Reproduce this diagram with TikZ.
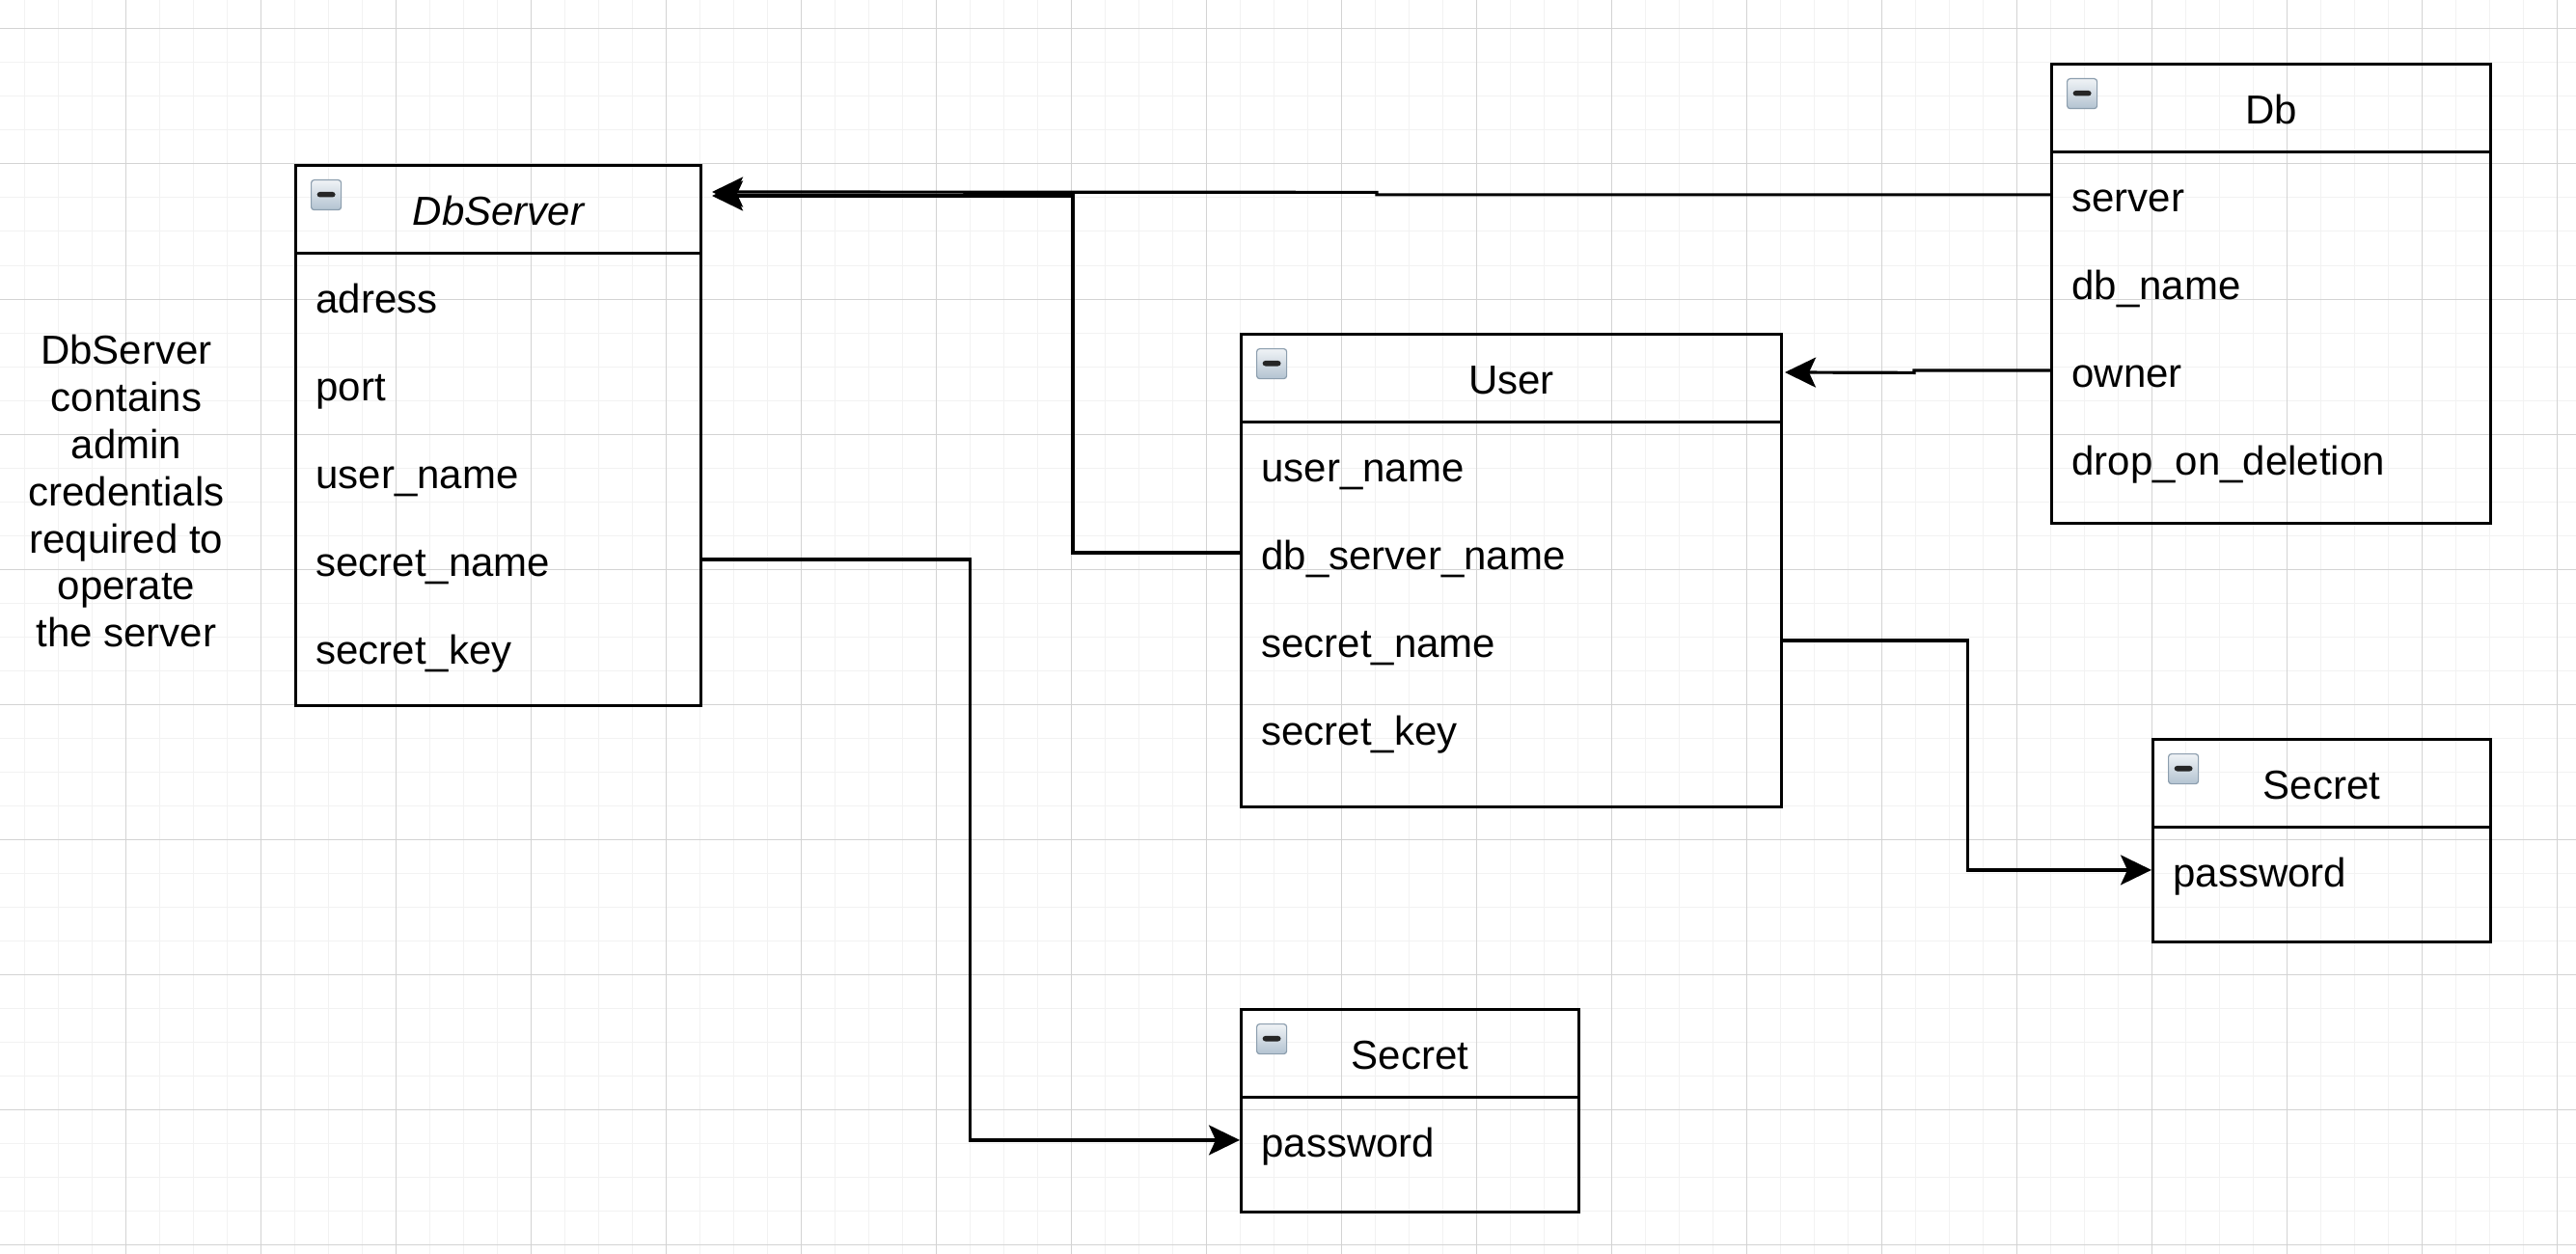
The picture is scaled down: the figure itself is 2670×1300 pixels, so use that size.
\documentclass[tikz,border=0pt]{standalone}
\usepackage{fontspec}
\setmainfont{Liberation Sans}
\usetikzlibrary{arrows.meta}
\definecolor{gridminor}{HTML}{F2F2F2}
\definecolor{gridmajor}{HTML}{D3D3D3}
\definecolor{iconborder}{HTML}{8C9EAE}
\definecolor{icontop}{HTML}{F0F3F6}
\definecolor{iconbot}{HTML}{B3C3D1}
\newcommand\fsz{\fontsize{21pt}{25pt}\selectfont}
\begin{document}
\begin{tikzpicture}[x=0.5pt,y=-0.5pt,
  minorline/.style={draw=gridminor, line width=0.5pt},
  majorline/.style={draw=gridmajor, line width=0.5pt},
  classbox/.style={draw, line width=1.6pt, inner sep=0pt, anchor=north west},
  hdr/.style={draw, line width=1.6pt, inner sep=0pt, anchor=north west, minimum height=45.5pt,
    align=center, text height=18.5pt, text depth=2pt, font=\fsz},
  fieldrow/.style={inner sep=0pt, inner xsep=11pt, anchor=north west, minimum height=45.5pt,
    text width=#1, align=left, text height=20pt, text depth=2pt, font=\fsz},
  icon/.style={draw=iconborder, line width=0.6pt, rounded corners=1.5pt, top color=icontop,
    bottom color=iconbot, minimum size=15.5pt, inner sep=0pt, anchor=north west,
    path picture={\fill[black!85] ([xshift=-4.75pt,yshift=-1.2pt]path picture bounding box.center)
      rectangle ++(9.5pt,2.8pt);}},
  conn/.style={line width=1.6pt, -{Stealth[length=16pt,width=15.5pt,inset=3.5pt]}},
  note/.style={font=\fontsize{21pt}{24.4pt}\selectfont, align=center, inner sep=0pt, anchor=north}
]
\useasboundingbox (0,0) rectangle (2670,1300);
\fill[white] (0,0) rectangle (2670,1300);
% grid
\foreach \i in {0,...,76} \draw[minorline] ({25+35*\i},0) -- ({25+35*\i},1300);
\foreach \j in {0,...,37} \draw[minorline] (0,{-5+35*\j}) -- (2670,{-5+35*\j});
\foreach \i in {0,...,18} \draw[majorline] ({130+140*\i},0) -- ({130+140*\i},1300);
\foreach \j in {0,...,9} \draw[majorline] (0,{30+140*\j}) -- (2670,{30+140*\j});

% DbServer
\node[classbox, minimum width=210pt, minimum height=280pt] (dbs) at (305,170) {};
\node[hdr, minimum width=210pt] (dbs-h) at (305,170) {\itshape DbServer};
\node[icon] (dbs-icon) at (322,186) {};
\node[fieldrow=188pt] (dbs-adress) at (305,261) {adress};
\node[fieldrow=188pt] (dbs-port) at (305,352) {port};
\node[fieldrow=188pt] (dbs-username) at (305,443) {user\_name};
\node[fieldrow=188pt] (dbs-secretname) at (305,534) {secret\_name};
\node[fieldrow=188pt] (dbs-secretkey) at (305,625) {secret\_key};

% Db
\node[classbox, minimum width=227.5pt, minimum height=238pt] (db) at (2125,65) {};
\node[hdr, minimum width=227.5pt] (db-h) at (2125,65) {Db};
\node[icon] (db-icon) at (2142,81) {};
\node[fieldrow=205.5pt] (db-server) at (2125,156) {server};
\node[fieldrow=205.5pt] (db-dbname) at (2125,247) {db\_name};
\node[fieldrow=205.5pt] (db-owner) at (2125,338) {owner};
\node[fieldrow=205.5pt] (db-drop) at (2125,429) {drop\_on\_deletion};

% User
\node[classbox, minimum width=280pt, minimum height=245pt] (user) at (1285,345) {};
\node[hdr, minimum width=280pt] (user-h) at (1285,345) {User};
\node[icon] (user-icon) at (1302,361) {};
\node[fieldrow=258pt] (user-username) at (1285,436) {user\_name};
\node[fieldrow=258pt] (user-dbsn) at (1285,527) {db\_server\_name};
\node[fieldrow=258pt] (user-secretname) at (1285,618) {secret\_name};
\node[fieldrow=258pt] (user-secretkey) at (1285,709) {secret\_key};

% Secret (right)
\node[classbox, minimum width=175pt, minimum height=105pt] (sec1) at (2230,765) {};
\node[hdr, minimum width=175pt] (sec1-h) at (2230,765) {Secret};
\node[icon] (sec1-icon) at (2247,781) {};
\node[fieldrow=153pt] (sec1-pw) at (2230,856) {password};

% Secret (bottom)
\node[classbox, minimum width=175pt, minimum height=105pt] (sec2) at (1285,1045) {};
\node[hdr, minimum width=175pt] (sec2-h) at (1285,1045) {Secret};
\node[icon] (sec2-icon) at (1302,1061) {};
\node[fieldrow=153pt] (sec2-pw) at (1285,1136) {password};

% note
\node[note] (note) at (131,347) {DbServer\\contains\\admin\\credentials\\required to\\operate\\the server};

% connector end points
\coordinate (dbs-inA) at (738,199);
\coordinate (dbs-inB) at (738,203);
\coordinate (user-in) at (1850,386);

% connectors
\draw[conn] (db-server.west) -- ++(-698,0) -- ++(0,-2.5) -- (dbs-inA);
\draw[conn] (user-dbsn.west) -- ++(-173,0) |- (dbs-inB);
\draw[conn] (db-owner.west) -- ++(-141,0) -- ++(0,2.5) -- (user-in);
\draw[conn] (dbs-secretname.east) -- ++(280,0) |- (sec2-pw.west);
\draw[conn] (user-secretname.east) -- ++(194,0) |- (sec1-pw.west);
\end{tikzpicture}
\end{document}
